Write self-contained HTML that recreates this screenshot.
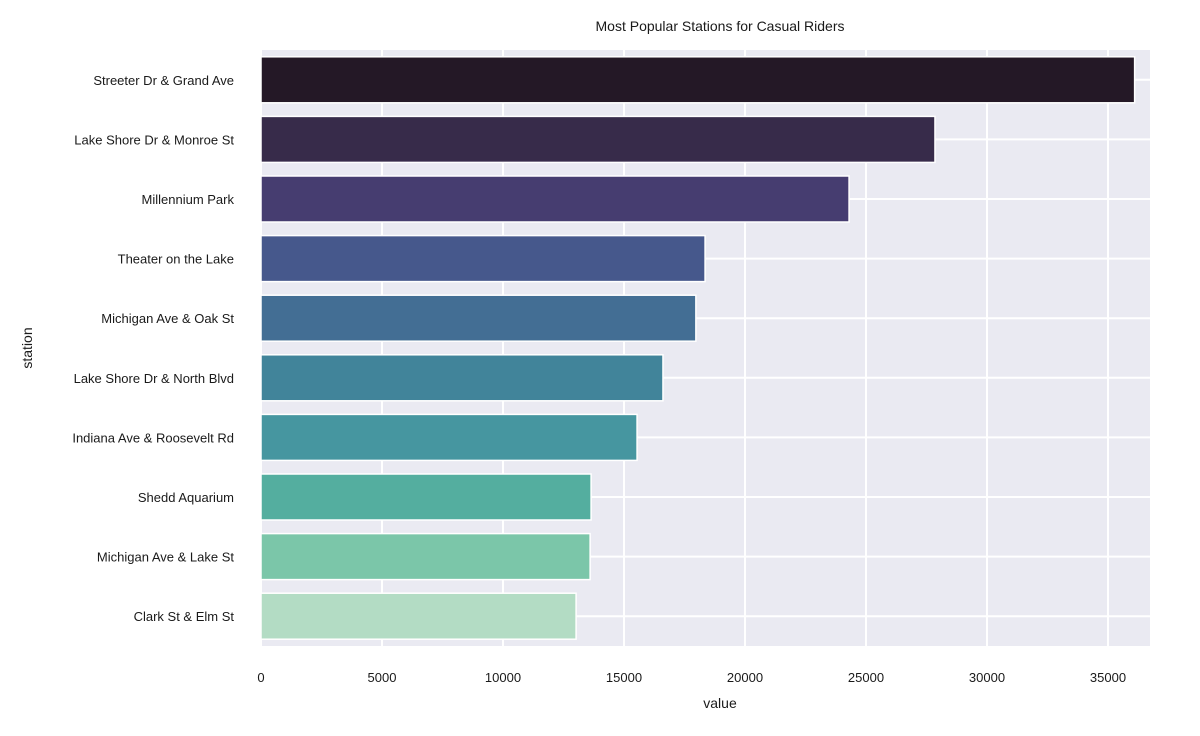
<!DOCTYPE html>
<html><head><meta charset="utf-8"><style>
body{margin:0;background:#fff;font-family:"Liberation Sans",sans-serif;}
svg text{font-family:"Liberation Sans",sans-serif;fill:#1a1a1a;}
</style></head><body>
<svg id="chart" width="1200" height="731">
<text x="720" y="31" font-size="14" text-anchor="middle">Most Popular Stations for Casual Riders</text>
<rect x="262" y="50" width="888" height="596" fill="#eaeaf2"/>
<g id="grid"></g><g id="bars"></g><g id="ylabels"></g><g id="xticks"></g>
<text x="720" y="708" font-size="14" text-anchor="middle">value</text>
<text x="32" y="348" font-size="14" text-anchor="middle" transform="rotate(-90 32 348)">station</text>
</svg>
<script>
const stations=["Streeter Dr & Grand Ave","Lake Shore Dr & Monroe St","Millennium Park","Theater on the Lake","Michigan Ave & Oak St","Lake Shore Dr & North Blvd","Indiana Ave & Roosevelt Rd","Shedd Aquarium","Michigan Ave & Lake St","Clark St & Elm St"];
const values=[36100,27850,24300,18350,17970,16610,15540,13640,13600,13020];
const xTicks=[0,5000,10000,15000,20000,25000,30000,35000];
const colors=["#241826","#372b4a","#463d70","#46588c","#436e94","#41849a","#4696a0","#54ae9f","#7bc6a9","#b3dcc4"];
const NS="http://www.w3.org/2000/svg";
const x=v=>261+v*121/5000;
const bandTop=i=>50+i*59.6;
function mk(t,a,p){const e=document.createElementNS(NS,t);for(const k in a)e.setAttribute(k,a[k]);p.appendChild(e);return e;}
const grid=document.getElementById('grid'),bars=document.getElementById('bars'),yl=document.getElementById('ylabels'),xt=document.getElementById('xticks');
xTicks.forEach(t=>{
 const l=mk('line',{x1:x(t),x2:x(t),y1:50,y2:646,stroke:'#fff','stroke-width':2},grid);
 
 
 const tx=mk('text',{x:x(t),y:682,'font-size':13,'text-anchor':'middle'},xt);
 tx.textContent=t;
 
 
});
stations.forEach((s,i)=>{
 const c=bandTop(i)+29.8;
 const g=mk('line',{x1:262,x2:1150,y1:c,y2:c,stroke:'#fff','stroke-width':2},grid);
 
 
 const r=mk('rect',{x:261,y:c-23,width:x(values[i])-261,height:46,fill:colors[i],stroke:'#fff','stroke-width':1.5},bars);
 
 
 const t=mk('text',{x:234,y:c+5,'font-size':13,'text-anchor':'end'},yl);
 t.textContent=s;
 
 
});
</script>
</body></html>
